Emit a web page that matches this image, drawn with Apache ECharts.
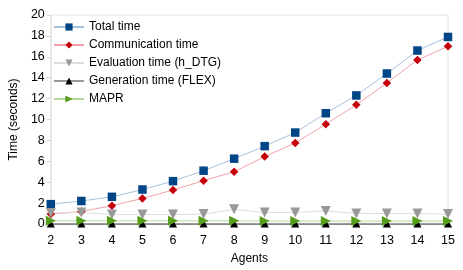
<!DOCTYPE html>
<html><head><meta charset="utf-8">
<script src="https://cdn.jsdelivr.net/npm/echarts@6/dist/echarts.min.js"></script>
<style>html,body{margin:0;padding:0;background:#fff}#c{width:463px;height:270px}</style>
</head><body><div id="c"></div>
<script>
var agents = ['2','3','4','5','6','7','8','9','10','11','12','13','14','15'];
var totalTime = [1.9, 2.2, 2.6, 3.3, 4.1, 5.1, 6.25, 7.45, 8.75, 10.6, 12.3, 14.4, 16.6, 17.9];
var commTime = [0.95, 1.2, 1.75, 2.45, 3.25, 4.15, 5.0, 6.45, 7.75, 9.55, 11.4, 13.5, 15.7, 17.0];
var evalTime = [1.05, 1.1, 0.9, 0.9, 0.9, 0.95, 1.4, 1.1, 1.1, 1.25, 1.0, 1.0, 1.0, 0.95];
var genTime = [0.05, 0.05, 0.05, 0.05, 0.05, 0.05, 0.05, 0.05, 0.05, 0.05, 0.05, 0.05, 0.05, 0.05];
var maprTime = [0.3, 0.3, 0.3, 0.3, 0.3, 0.3, 0.3, 0.28, 0.28, 0.28, 0.28, 0.28, 0.28, 0.28];
var yTicks = [0, 2, 4, 6, 8, 10, 12, 14, 16, 18, 20];

var font = 'Liberation Sans, Arial, sans-serif';
function mk(name, data, lineColor, markColor, symbol, size, rotate) {
  return {
    name: name, type: 'line', data: data, symbol: symbol, symbolSize: size,
    symbolRotate: rotate || 0,
    lineStyle: {color: lineColor, width: 1},
    itemStyle: {color: markColor},
    emphasis: {disabled: true}, animation: false
  };
}
var chart = echarts.init(document.getElementById('c'));
chart.setOption({
  animation: false,
  grid: {left: 42, right: 15, top: 15, bottom: 44, show: true, borderColor: '#e4e4e4', borderWidth: 1},
  legend: {
    orient: 'vertical', left: 48, top: 16, itemGap: 6, itemWidth: 30, itemHeight: 9,
    textStyle: {fontFamily: font, fontSize: 12, color: '#000'},
    data: ['Total time', 'Communication time', 'Evaluation time (h_DTG)', 'Generation time (FLEX)', 'MAPR']
  },
  xAxis: {
    type: 'category', data: agents, boundaryGap: false, name: 'Agents',
    nameLocation: 'middle', nameGap: 29,
    nameTextStyle: {fontFamily: font, fontSize: 12, color: '#000'},
    axisLine: {lineStyle: {color: '#888'}},
    axisTick: {show: false},
    axisLabel: {fontFamily: font, fontSize: 12.5, color: '#000', margin: 10},
    splitLine: {show: false}
  },
  yAxis: {
    type: 'value', min: yTicks[0], max: yTicks[yTicks.length - 1], interval: 2,
    name: 'Time (seconds)', nameLocation: 'middle', nameGap: 29,
    nameTextStyle: {fontFamily: font, fontSize: 12, color: '#000'},
    axisLine: {show: true, lineStyle: {color: '#e4e4e4'}},
    axisTick: {show: true, length: 4, lineStyle: {color: '#d8d8d8'}},
    axisLabel: {fontFamily: font, fontSize: 12.5, color: '#000', margin: 6},
    splitLine: {show: false}
  },
  series: [
    mk('Total time', totalTime, '#a7c0dc', '#004586', 'rect', 8.5),
    mk('Communication time', commTime, '#f2a2a8', '#c5000b', 'diamond', 8.5),
    mk('Evaluation time (h_DTG)', evalTime, '#dddddd', '#999999', 'triangle', 10, 180),
    mk('Generation time (FLEX)', genTime, '#999999', '#000000', 'triangle', 8),
    mk('MAPR', maprTime, '#b5d99c', '#579d1c', 'triangle', 10, -90)
  ]
});
</script></body></html>
